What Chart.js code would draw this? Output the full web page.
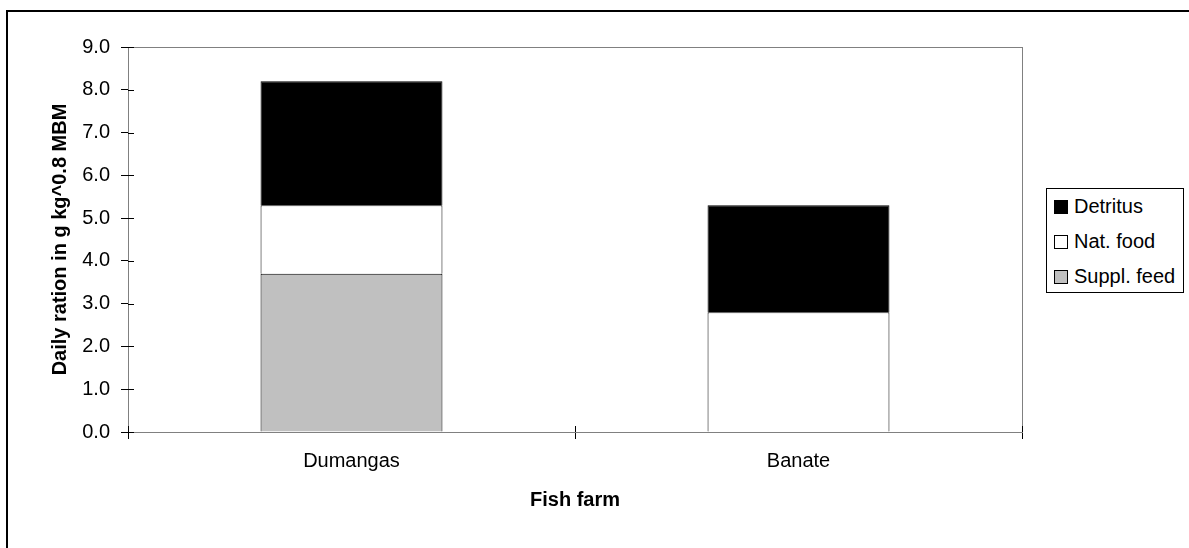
<!DOCTYPE html>
<html lang="en">
<head>
  <meta charset="UTF-8" />
  <title>Daily ration by fish farm</title>
  <script src="https://cdn.jsdelivr.net/npm/chart.js"></script>
  <style>
    html, body {
      margin: 0;
      padding: 0;
      background: #fff;
      overflow: hidden;
      font-family: "Liberation Sans", Arial, sans-serif;
    }
    .frame {
      position: absolute;
      left: 6px;
      top: 10px;
      width: 1400px;
      height: 800px;
      border: 2px solid #000;
    }
    .wrap {
      position: absolute;
      left: 0;
      top: 0;
      width: 1189px;
      height: 548px;
    }
    #legend {
      position: absolute;
      left: 1046px;
      top: 188px;
      width: 136px;
      height: 103px;
      border: 1px solid #000;
      background: #fff;
      font-size: 20px;
      color: #000;
    }
    #legend .item {
      display: flex;
      align-items: center;
      height: 35px;
      padding-left: 7px;
    }
    #legend .box {
      width: 12px;
      height: 12px;
      border: 1px solid #000;
      margin-right: 6px;
    }
  </style>
</head>
<body>
  <div class="frame"></div>
  <div class="wrap">
    <canvas id="chart" width="1189" height="548"></canvas>
    <div id="legend"></div>
  </div>
  <script>
    const farms = ["Dumangas", "Banate"];
    const supplFeed = [3.7, 0];
    const natFood = [1.6, 2.8];
    const detritus = [2.9, 2.5];
    const yTicks = [0, 1, 2, 3, 4, 5, 6, 7, 8, 9];

    const font = "'Liberation Sans', Arial, sans-serif";

    // gray plot border + Excel style ticks that cross the axis
    const plotFrame = {
      id: "plotFrame",
      beforeDatasetsDraw(chart) {
        const a = chart.chartArea;
        const c = chart.ctx;
        c.save();
        c.strokeStyle = "#808080";
        c.lineWidth = 1;
        c.strokeRect(a.left + 0.5, a.top + 0.5, a.right - a.left, a.bottom - a.top);
        c.restore();
      },
      afterDraw(chart) {
        const a = chart.chartArea;
        const c = chart.ctx;
        const y = chart.scales.y, x = chart.scales.x;
        c.save();
        c.strokeStyle = "#000";
        c.lineWidth = 1;
        c.beginPath();
        yTicks.forEach(v => {
          const py = Math.round(y.getPixelForValue(v)) + 0.5;
          c.moveTo(a.left, py);
          c.lineTo(a.left + 6, py);
        });
        for (let i = 0; i <= farms.length; i++) {
          const px = Math.round(x.getPixelForValue(i - 0.5)) + 0.5;
          c.moveTo(px, a.bottom);
          c.lineTo(px, a.bottom - 6);
        }
        c.stroke();
        c.restore();
      }
    };

    const chart = new Chart(document.getElementById("chart"), {
      type: "bar",
      data: {
        labels: farms,
        datasets: [
          { label: "Suppl. feed", data: supplFeed, backgroundColor: "#c0c0c0" },
          { label: "Nat. food", data: natFood, backgroundColor: "#ffffff" },
          { label: "Detritus", data: detritus, backgroundColor: "#000000" }
        ].map(d => Object.assign(d, {
          borderColor: "#000",
          borderWidth: 1,
          barPercentage: 0.407,
          categoryPercentage: 1.0
        }))
      },
      options: {
        responsive: false,
        animation: false,
        devicePixelRatio: 1,
        layout: { padding: { top: 47, right: 167, left: 0, bottom: 0 } },
        plugins: {
          legend: { display: false },
          tooltip: { enabled: false }
        },
        scales: {
          x: {
            stacked: true,
            grid: {
              display: true,
              offset: true,
              drawOnChartArea: false,
              drawTicks: true,
              tickLength: 7,
              color: "#000"
            },
            border: { display: true, color: "#000", width: 1 },
            ticks: { color: "#000", padding: 10, font: { family: font, size: 20 } },
            title: {
              display: true,
              text: "Fish farm",
              color: "#000",
              padding: { bottom: 36 },
              font: { family: font, size: 20, weight: "bold" }
            },
            afterFit(scale) { scale.height = 116; }
          },
          y: {
            stacked: true,
            min: 0,
            max: 9,
            grid: {
              display: true,
              drawOnChartArea: false,
              drawTicks: true,
              tickLength: 7,
              color: "#000"
            },
            border: { display: true, color: "#000", width: 1 },
            ticks: {
              stepSize: 1,
              color: "#000",
              padding: 11,
              font: { family: font, size: 20 },
              callback: v => v.toFixed(1)
            },
            title: {
              display: true,
              text: "Daily ration in g kg^0.8 MBM",
              color: "#000",
              padding: { top: 48 },
              font: { family: font, size: 20, weight: "bold" }
            },
            afterFit(scale) { scale.width = 128; }
          }
        }
      },
      plugins: [plotFrame]
    });

    // legend built from the chart's datasets, top series first
    const legendEl = document.getElementById("legend");
    chart.data.datasets.slice().reverse().forEach(ds => {
      const item = document.createElement("div");
      item.className = "item";
      const box = document.createElement("span");
      box.className = "box";
      box.style.background = ds.backgroundColor;
      const txt = document.createElement("span");
      txt.textContent = ds.label;
      item.appendChild(box);
      item.appendChild(txt);
      legendEl.appendChild(item);
    });
  </script>
</body>
</html>
